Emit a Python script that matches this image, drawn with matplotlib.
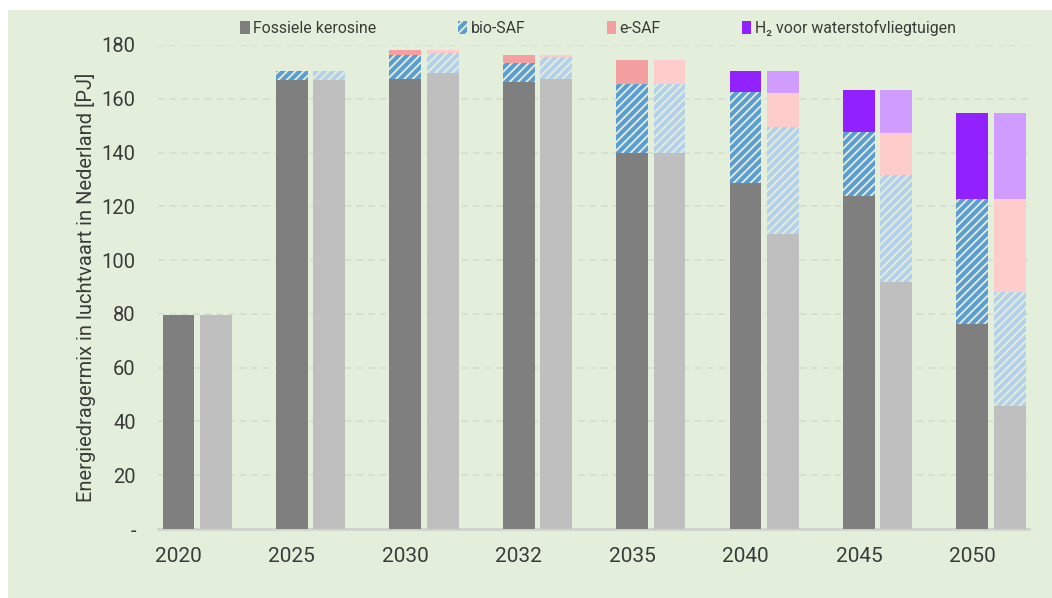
import numpy as np
import matplotlib.pyplot as plt
from matplotlib.patches import Rectangle, Patch

plt.rcParams['font.family'] = ['Roboto', 'DejaVu Sans']
plt.rcParams['hatch.linewidth'] = 1.3

years = ['2020', '2025', '2030', '2032', '2035', '2040', '2045', '2050']

# left bar of each pair
fossiel_a = [79.5, 167, 167.3, 166.4, 139.7, 128.7, 123.7, 76.2]
bio_a = [0, 3.5, 9.0, 7.0, 25.7, 33.7, 23.9, 46.5]
esaf_a = [0, 0, 1.8, 2.9, 9.0, 0, 0, 0]
h2_a = [0, 0, 0, 0, 0, 7.9, 15.8, 31.9]

# right bar of each pair
fossiel_b = [79.5, 167, 169.5, 167.3, 139.7, 109.8, 92.0, 45.7]
bio_b = [0, 3.5, 7.6, 8.1, 25.7, 39.7, 39.6, 42.4]
esaf_b = [0, 0, 1.0, 0.9, 9.0, 12.6, 15.7, 34.6]
h2_b = [0, 0, 0, 0, 0, 8.2, 16.0, 31.9]

bg = '#e4efdb'
txt = '#3a3a3a'

fig = plt.figure(figsize=(10.52, 5.98), dpi=100, facecolor='white')
fig.patches.append(Rectangle((8 / 1052, 0), 1, 1 - 10 / 598, transform=fig.transFigure,
                             facecolor=bg, edgecolor='none', zorder=-10))
ax = fig.add_axes([158 / 1052, 69 / 598, 871 / 1052, 484 / 598])
ax.set_facecolor('none')

x = np.arange(len(years))
w = 0.28
off = 0.33

def stack(xpos, parts, colors, hatched):
    bottom = np.zeros(len(years))
    for vals, col, h in zip(parts, colors, hatched):
        vals = np.array(vals, dtype=float)
        if h:
            ax.bar(xpos, vals, w, bottom=bottom, color=col, edgecolor=bg,
                   linewidth=0, hatch='////', zorder=3)
        else:
            ax.bar(xpos, vals, w, bottom=bottom, color=col, linewidth=0, zorder=3)
        bottom += vals

stack(x, [fossiel_a, bio_a, esaf_a, h2_a],
      ['#7f7f7f', '#5b9dd0', '#f4a0a0', '#9221ff'], [False, True, False, False])
stack(x + off, [fossiel_b, bio_b, esaf_b, h2_b],
      ['#bfbfbf', '#b4d0ea', '#ffcccc', '#d19cff'], [False, True, False, False])

ax.set_xlim(-0.18, 7.5)
ax.set_ylim(0, 180)
ax.set_yticks(range(0, 181, 20))
ax.set_yticklabels(['-'] + [str(v) for v in range(20, 181, 20)])
ax.set_xticks(x)
ax.set_xticklabels(years)
ax.tick_params(axis='y', length=0, pad=16, labelsize=14.5, labelcolor=txt)
ax.tick_params(axis='x', length=0, pad=13, labelsize=15, labelcolor=txt)

ax.grid(axis='y', color='#d6dfcf', linestyle=(0, (4, 3)), linewidth=1.2, zorder=0)
for s in ['top', 'right', 'left']:
    ax.spines[s].set_visible(False)
ax.spines['bottom'].set_color('#d0d3cc')
ax.spines['bottom'].set_linewidth(2)

ax.set_ylabel('Energiedragermix in luchtvaart in Nederland [PJ]', fontsize=14.5,
              color=txt, labelpad=4)

handles = [Patch(facecolor='#7f7f7f'),
           Patch(facecolor='#5b9dd0', hatch='////', edgecolor=bg, linewidth=0),
           Patch(facecolor='#f4a0a0'),
           Patch(facecolor='#9221ff')]
labels = ['Fossiele kerosine', 'bio-SAF', 'e-SAF', 'H₂ voor waterstofvliegtuigen']
leg = fig.legend(handles, labels, loc='center left', bbox_to_anchor=(226 / 1052, 1 - 28 / 598),
                 ncol=4, frameon=False, fontsize=11.4, handlelength=0.6, handleheight=0.9,
                 handletextpad=0.2, columnspacing=5.15, labelcolor=txt)

fig.savefig('out.png', dpi=100, facecolor='white')
